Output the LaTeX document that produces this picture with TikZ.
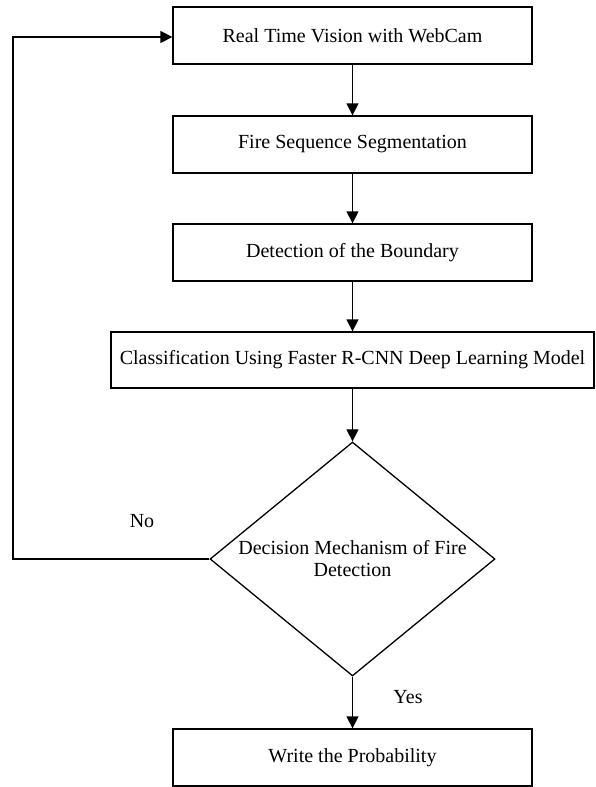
\documentclass[tikz,border=0pt]{standalone}
\usepackage{fontspec}
\setmainfont{Liberation Serif}
\usetikzlibrary{shapes.geometric,arrows.meta,positioning}
\newcommand{\LINEPT}{1.3pt}
\newcommand{\BOXFONT}{\fontsize{20}{22}\selectfont}
\tikzset{
	stepbox/.style={draw,line width=\LINEPT,minimum width=359pt,minimum height=57pt,inner sep=0pt,font=\BOXFONT},
	decisionbox/.style={draw,diamond,line width=\LINEPT,aspect=1.22,minimum width=285pt,minimum height=234pt,inner sep=0pt,align=center,font=\BOXFONT},
	flowarrow/.style={-{Triangle[length=12pt,width=12pt]},line width=\LINEPT},
	branchlabel/.style={font=\BOXFONT}
}
\begin{document}
\begin{tikzpicture}[x=1pt,y=-1pt]
	\useasboundingbox (0,0) rectangle (595,787);
	
	%%
	\node[stepbox] (vision) at (352.5,35.5) {Real Time Vision with WebCam};
	\node[stepbox] (segment) at (352.5,144.5) {Fire Sequence Segmentation};
	\node[stepbox] (boundary) at (352.5,252.5) {Detection of the Boundary};
	\node[stepbox,minimum width=483pt,minimum height=56pt] (classify) at (352.5,360) {Classification Using Faster R-CNN Deep Learning Model};
	\node[decisionbox] (decide) at (352.5,559) {Decision Mechanism of Fire\\Detection};
	\node[stepbox] (write) at (352.5,757.5) {Write the Probability};
	
	\coordinate (loopbot) at (13,559);
	\coordinate (looptop) at (13,37);
	
	%%
	\draw[flowarrow] (vision) -- (segment);
	\draw[flowarrow] (segment) -- (boundary);
	\draw[flowarrow] (boundary) -- (classify);
	\draw[flowarrow] (classify) -- (decide);
	\draw[flowarrow] (decide) -- (write);
	\draw[flowarrow] (decide.west) -- (loopbot) -- (looptop) -- (vision.west |- looptop);
	
	\node[branchlabel] (nolabel) at (142,521) {No};
	\node[branchlabel] (yeslabel) at (408,697) {Yes};
	
\end{tikzpicture}
\end{document}
